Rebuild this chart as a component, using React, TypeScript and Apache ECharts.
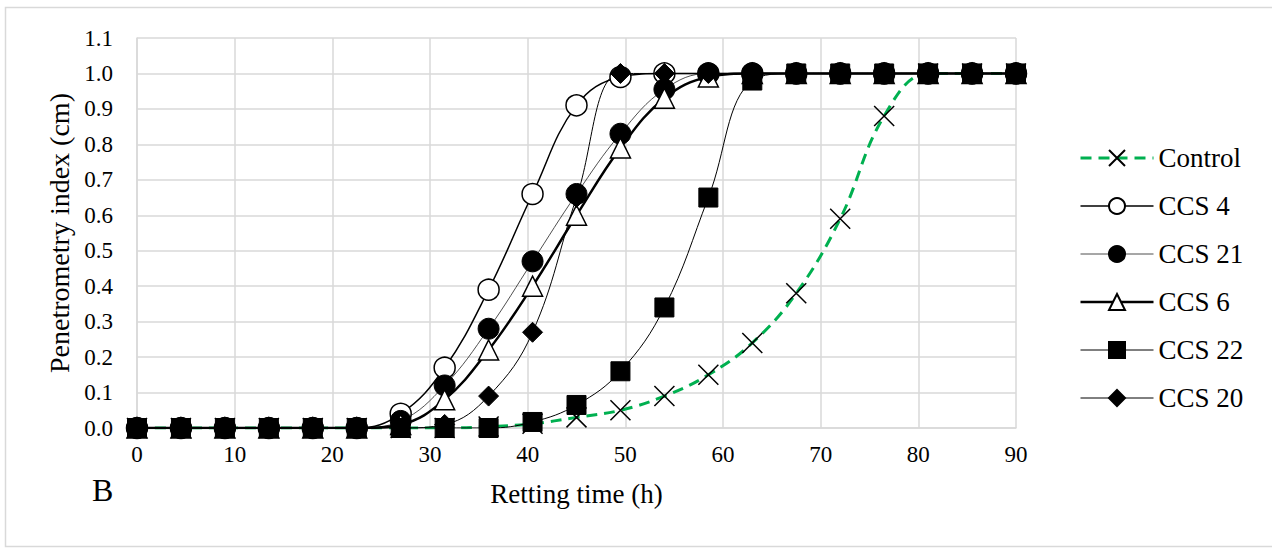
import React, { useEffect, useRef } from "react";
import * as echarts from "echarts";

const hours = [0, 4.5, 9, 13.5, 18, 22.5, 27, 31.5, 36, 40.5, 45, 49.5, 54, 58.5, 63, 67.5, 72, 76.5, 81, 85.5, 90];
const control = [0, 0, 0, 0, 0, 0, 0, 0, 0.004, 0.012, 0.03, 0.05, 0.09, 0.15, 0.24, 0.38, 0.59, 0.88, 1.0, 1.0, 1.0];
const ccs4 = [0, 0, 0, 0, 0, 0, 0.04, 0.17, 0.39, 0.66, 0.91, 0.99, 1.0, 1.0, 1.0, 1.0, 1.0, 1.0, 1.0, 1.0, 1.0];
const ccs21 = [0, 0, 0, 0, 0, 0, 0.02, 0.12, 0.28, 0.47, 0.66, 0.83, 0.955, 1.0, 1.0, 1.0, 1.0, 1.0, 1.0, 1.0, 1.0];
const ccs6 = [0, 0, 0, 0, 0, 0, 0.01, 0.08, 0.22, 0.4, 0.6, 0.79, 0.93, 0.99, 1.0, 1.0, 1.0, 1.0, 1.0, 1.0, 1.0];
const ccs22 = [0, 0, 0, 0, 0, 0, 0, 0, 0, 0.017, 0.065, 0.16, 0.34, 0.65, 0.98, 1.0, 1.0, 1.0, 1.0, 1.0, 1.0];
const ccs20 = [0, 0, 0, 0, 0, 0, 0, 0.01, 0.09, 0.27, 0.65, 1.0, 1.0, 1.0, 1.0, 1.0, 1.0, 1.0, 1.0, 1.0, 1.0];

const seriesNames = ["Control", "CCS 4", "CCS 21", "CCS 6", "CCS 22", "CCS 20"];
const lineWidths = [3, 1.5, 0.8, 2.5, 1, 1];
const xTicks = { min: 0, max: 90, interval: 10 };
const yTicks = { min: 0, max: 1.1, interval: 0.1 };

const FONT = "'Liberation Serif', 'Times New Roman', serif";

function pairs(vals: number[]) {
  return hours.map((h, i) => [h, vals[i]]);
}

export default function App() {
  const ref = useRef<HTMLDivElement>(null);
  useEffect(() => {
    if (!ref.current) return;
    const chart = echarts.init(ref.current, null, { renderer: "svg" });
    const grid = "#d9d9d9";
    const option: any = {
      animation: false,
      backgroundColor: "#fff",
      textStyle: { fontFamily: FONT },
      grid: { left: 137, right: 256, top: 38, bottom: 120, containLabel: false },
      xAxis: {
        type: "value",
        min: xTicks.min,
        max: xTicks.max,
        interval: xTicks.interval,
        name: "Retting time (h)",
        nameLocation: "middle",
        nameGap: 52,
        nameTextStyle: { fontFamily: FONT, fontSize: 27, color: "#000" },
        axisLine: { show: true, lineStyle: { color: grid, width: 1.5 } },
        axisTick: { show: false },
        axisLabel: { fontFamily: FONT, fontSize: 23, color: "#000", margin: 15 },
        splitLine: { show: true, lineStyle: { color: grid, width: 1.5 } },
      },
      yAxis: {
        type: "value",
        min: yTicks.min,
        max: yTicks.max,
        interval: yTicks.interval,
        name: "Penetrometry index (cm)",
        nameLocation: "middle",
        nameGap: 62,
        nameTextStyle: { fontFamily: FONT, fontSize: 28, color: "#000" },
        axisLine: { show: true, lineStyle: { color: grid, width: 1.5 } },
        axisTick: { show: false },
        axisLabel: {
          fontFamily: FONT,
          fontSize: 23,
          color: "#000",
          margin: 24,
          formatter: (v: number) => v.toFixed(1),
        },
        splitLine: { show: true, lineStyle: { color: grid, width: 1.5 } },
      },
      legend: {
        orient: "vertical",
        left: 1074,
        top: 139,
        itemWidth: 73,
        itemHeight: 20,
        itemGap: 20,
        data: seriesNames.map((n, i) => ({ name: n, lineStyle: { width: lineWidths[i] } })),
        textStyle: { fontFamily: FONT, fontSize: 27, color: "#000", lineHeight: 28 },
      },
      graphic: [
        {
          type: "rect",
          shape: { x: 5.5, y: 7.5, width: 1290, height: 539 },
          style: { fill: "none", stroke: "#d9d9d9", lineWidth: 1.5 },
          silent: true,
          z: -10,
        },
        {
          type: "text",
          left: 92,
          top: 474,
          style: { text: "B", fontFamily: FONT, fontSize: 32, fill: "#000" },
        },
      ],
      series: [
        {
          name: seriesNames[0],
          type: "line",
          data: pairs(control),
          smooth: 0.4,
          symbol: "path://M0,0L10,10M10,0L0,10",
          symbolSize: 20,
          lineStyle: { color: "#00b050", width: lineWidths[0], type: [11, 7] },
          itemStyle: { color: "#000", borderColor: "#000", borderWidth: 1.5 },
        },
        {
          name: seriesNames[1],
          type: "line",
          data: pairs(ccs4),
          smooth: 0.4,
          symbol: "circle",
          symbolSize: 21,
          lineStyle: { color: "#000", width: lineWidths[1] },
          itemStyle: { color: "#fff", borderColor: "#000", borderWidth: 1.5 },
        },
        {
          name: seriesNames[2],
          type: "line",
          data: pairs(ccs21),
          smooth: 0.4,
          symbol: "circle",
          symbolSize: 21,
          lineStyle: { color: "#222", width: lineWidths[2] },
          itemStyle: { color: "#000", borderColor: "#000", borderWidth: 1 },
        },
        {
          name: seriesNames[3],
          type: "line",
          data: pairs(ccs6),
          smooth: 0.4,
          symbol: "triangle",
          symbolSize: 20,
          lineStyle: { color: "#000", width: lineWidths[3] },
          itemStyle: { color: "#fff", borderColor: "#000", borderWidth: 1.5 },
        },
        {
          name: seriesNames[4],
          type: "line",
          data: pairs(ccs22),
          smooth: 0.4,
          symbol: "rect",
          symbolSize: 19,
          lineStyle: { color: "#000", width: lineWidths[4] },
          itemStyle: { color: "#000", borderColor: "#000", borderWidth: 1 },
        },
        {
          name: seriesNames[5],
          type: "line",
          data: pairs(ccs20),
          smooth: 0.4,
          symbol: "diamond",
          symbolSize: 20,
          lineStyle: { color: "#000", width: lineWidths[5] },
          itemStyle: { color: "#000", borderColor: "#000", borderWidth: 1 },
        },
      ],
    };
    chart.setOption(option);
    return () => chart.dispose();
  }, []);
  return (
    <div
      ref={ref}
      style={{ position: "fixed", left: 0, top: 0, width: 1272, height: 548, background: "#fff" }}
    />
  );
}
